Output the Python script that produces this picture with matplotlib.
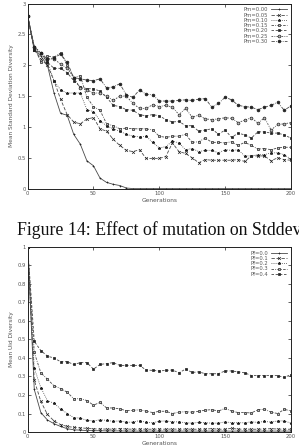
import numpy as np
import matplotlib
matplotlib.use("Agg")
import matplotlib.pyplot as plt

gens = np.arange(0, 201, 5)

# top chart: mean standard deviation diversity for each mutation rate
pm_labels = ["Pm=0.00", "Pm=0.05", "Pm=0.10", "Pm=0.15", "Pm=0.20", "Pm=0.25", "Pm=0.30"]
pm000 = [2.8, 2.25, 2.15, 2.0, 1.55, 1.22, 1.19, 0.88, 0.72, 0.45, 0.37, 0.17, 0.1, 0.07, 0.05,
         0.01, 0, 0, 0, 0, 0, 0, 0, 0, 0, 0, 0, 0, 0, 0, 0, 0, 0, 0, 0, 0, 0, 0, 0, 0, 0]
pm005 = [2.8, 2.25, 2.1, 2.0, 1.75, 1.45, 1.2, 1.08, 1.05, 1.13, 1.15, 0.97, 0.93, 0.8, 0.7,
         0.62, 0.6, 0.63, 0.49, 0.49, 0.49, 0.52, 0.74, 0.6, 0.57, 0.5, 0.42, 0.47, 0.46, 0.46,
         0.46, 0.46, 0.47, 0.44, 0.53, 0.53, 0.53, 0.45, 0.5, 0.47, 0.46]
pm010 = [2.8, 2.25, 2.2, 2.05, 1.75, 1.6, 1.55, 1.55, 1.55, 1.28, 1.25, 1.1, 1.02, 0.97, 0.93,
         0.88, 0.85, 0.84, 0.85, 0.75, 0.66, 0.68, 0.77, 0.74, 0.63, 0.65, 0.6, 0.62, 0.62, 0.58,
         0.63, 0.62, 0.63, 0.53, 0.53, 0.55, 0.55, 0.58, 0.58, 0.55, 0.48]
pm015 = [2.8, 2.3, 2.05, 2.15, 2.13, 2.2, 2.0, 1.8, 1.83, 1.48, 1.33, 1.27, 1.05, 1.02, 0.97,
         0.98, 0.97, 0.97, 0.97, 0.95, 0.85, 0.83, 0.85, 0.85, 0.88, 0.75, 0.76, 0.82, 0.75, 0.75,
         0.74, 0.76, 0.7, 0.75, 0.7, 0.64, 0.65, 0.63, 0.66, 0.67, 0.67]
pm020 = [2.8, 2.25, 2.2, 2.05, 1.95, 1.95, 1.88, 1.75, 1.65, 1.62, 1.62, 1.58, 1.48, 1.35, 1.33,
         1.28, 1.27, 1.2, 1.18, 1.2, 1.18, 1.12, 1.08, 1.09, 1.02, 1.02, 0.93, 0.95, 0.97, 0.88,
         0.95, 0.83, 0.9, 0.87, 0.82, 0.92, 0.92, 0.9, 0.9, 0.87, 0.82]
pm025 = [2.8, 2.3, 2.2, 2.1, 2.1, 2.02, 1.95, 1.8, 1.63, 1.6, 1.55, 1.55, 1.5, 1.43, 1.5,
         1.5, 1.38, 1.3, 1.3, 1.36, 1.33, 1.35, 1.32, 1.2, 1.3, 1.16, 1.19, 1.13, 1.12, 1.13,
         1.15, 1.14, 1.07, 1.11, 1.15, 1.06, 1.15, 0.95, 1.04, 1.05, 1.07]
pm030 = [2.8, 2.3, 2.2, 2.1, 2.12, 2.18, 2.05, 1.8, 1.78, 1.76, 1.75, 1.78, 1.63, 1.65, 1.7,
         1.52, 1.48, 1.6, 1.53, 1.52, 1.42, 1.42, 1.42, 1.43, 1.44, 1.43, 1.45, 1.46, 1.32, 1.38,
         1.48, 1.44, 1.35, 1.33, 1.32, 1.28, 1.32, 1.35, 1.4, 1.27, 1.34]

# bottom chart: mean uid diversity for each Pf
pf_labels = ["Pf=0.0", "Pf=0.1", "Pf=0.2", "Pf=0.3", "Pf=0.4"]
pf00 = [1.0, 0.23, 0.105, 0.065, 0.045, 0.03, 0.018, 0.012, 0.01, 0.008, 0.007, 0.007, 0.006,
        0.006, 0.006, 0.005, 0.005, 0.005, 0.005, 0.005, 0.005, 0.005, 0.005, 0.005, 0.005,
        0.005, 0.005, 0.005, 0.005, 0.005, 0.005, 0.005, 0.005, 0.005, 0.005, 0.005, 0.005,
        0.005, 0.005, 0.005, 0.005]
pf01 = [1.0, 0.28, 0.165, 0.095, 0.06, 0.04, 0.03, 0.025, 0.022, 0.02, 0.017, 0.016, 0.016,
        0.015, 0.018, 0.016, 0.015, 0.016, 0.015, 0.015, 0.016, 0.015, 0.016, 0.015, 0.016,
        0.015, 0.015, 0.016, 0.018, 0.015, 0.015, 0.02, 0.015, 0.016, 0.015, 0.015, 0.016,
        0.018, 0.016, 0.015, 0.015]
pf02 = [1.0, 0.345, 0.24, 0.17, 0.155, 0.125, 0.1, 0.078, 0.075, 0.063, 0.06, 0.066, 0.063,
        0.058, 0.06, 0.053, 0.053, 0.062, 0.052, 0.05, 0.058, 0.06, 0.055, 0.055, 0.05, 0.048,
        0.052, 0.05, 0.048, 0.048, 0.055, 0.05, 0.05, 0.05, 0.055, 0.052, 0.058, 0.053, 0.06,
        0.06, 0.048]
pf03 = [1.0, 0.43, 0.32, 0.285, 0.25, 0.235, 0.215, 0.18, 0.18, 0.17, 0.145, 0.16, 0.13, 0.13,
        0.125, 0.115, 0.117, 0.12, 0.113, 0.105, 0.112, 0.112, 0.1, 0.107, 0.11, 0.107, 0.112,
        0.118, 0.121, 0.113, 0.128, 0.113, 0.105, 0.105, 0.103, 0.12, 0.123, 0.107, 0.1, 0.122,
        0.115]
pf04 = [1.0, 0.49, 0.44, 0.41, 0.4, 0.38, 0.38, 0.365, 0.375, 0.375, 0.34, 0.365, 0.37, 0.375,
        0.36, 0.36, 0.36, 0.36, 0.335, 0.333, 0.33, 0.333, 0.335, 0.32, 0.34, 0.322, 0.325,
        0.315, 0.315, 0.315, 0.33, 0.33, 0.325, 0.32, 0.305, 0.305, 0.305, 0.305, 0.305, 0.295,
        0.31]

# gnuplot-like point types and dash patterns
markers = ["+", "x", "*", "s", "s", "o", "o"]
fills = [True, True, True, False, True, False, True]
dashes = ["-", (0, (4, 2)), (0, (1, 1.5)), (0, (3, 1.5, 1, 1.5)), (0, (3, 2)), (0, (2, 1.5, 1, 1.5)), (0, (4, 1.5, 1, 1.5))]
lcol = "#4a4a4a"
tcol = "#555555"

fig = plt.figure(figsize=(2.99, 4.48), dpi=100)


def style_axes(ax, ylabel):
    ax.tick_params(direction="in", top=True, right=True, labelsize=3.8, length=2,
                   width=0.5, colors="#222222", labelcolor=tcol, pad=1.5)
    for s in ax.spines.values():
        s.set_linewidth(0.7)
        s.set_color("#222222")
    ax.set_xlabel("Generations", fontsize=4.2, color=tcol, labelpad=1.5)
    ax.set_ylabel(ylabel, fontsize=4.2, color=tcol, labelpad=2)
    ax.set_xlim(0, 200)
    ax.set_xticks([0, 50, 100, 150, 200])


def draw(ax, series, labels):
    for i, (ys, lab) in enumerate(zip(series, labels)):
        ax.plot(gens, ys, color=lcol, lw=0.6, linestyle=dashes[i], marker=markers[i],
                markersize=2.0, markeredgewidth=0.5, markeredgecolor="#222222",
                markerfacecolor="#222222" if fills[i] else "#bbbbbb", label=lab)
    leg = ax.legend(loc="upper right", frameon=False, fontsize=3.8, markerfirst=False,
                    handlelength=3, handletextpad=0.6, labelspacing=0.05,
                    borderaxespad=0.3)
    for t in leg.get_texts():
        t.set_color(tcol)


ax1 = fig.add_axes([0.0926, 0.579, 0.88, 0.413])
draw(ax1, [pm000, pm005, pm010, pm015, pm020, pm025, pm030], pm_labels)
ax1.set_ylim(0, 3)
ax1.set_yticks([0, 0.5, 1, 1.5, 2, 2.5, 3])
ax1.set_yticklabels(["0", "0.5", "1", "1.5", "2", "2.5", "3"])
style_axes(ax1, "Mean Standard Deviation Diversity")

ax2 = fig.add_axes([0.0926, 0.0357, 0.88, 0.413])
draw(ax2, [pf00, pf01, pf02, pf03, pf04], pf_labels)
ax2.set_ylim(0, 1)
ax2.set_yticks(np.arange(0, 1.01, 0.1))
ax2.set_yticklabels(["0", "0.1", "0.2", "0.3", "0.4", "0.5", "0.6", "0.7", "0.8", "0.9", "1"])
style_axes(ax2, "Mean Uid Diversity")

fig.text(0.057, 0.487, "Figure 14: Effect of mutation on Stddev", fontsize=12.8,
         family="Liberation Serif", va="center", ha="left", color="#111111")

fig.savefig("out.png", dpi=100)
